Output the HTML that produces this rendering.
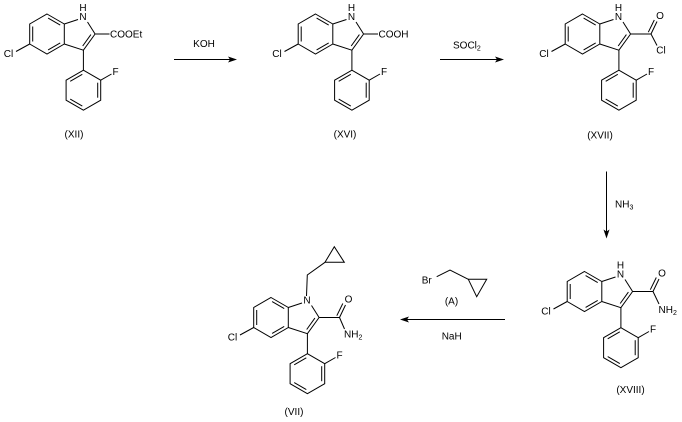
<!DOCTYPE html>
<html>
<head>
<meta charset="utf-8">
<style>
html,body{margin:0;padding:0;background:#fff;}
svg{display:block;}
text{font-family:"Liberation Sans",Arial,sans-serif;font-size:10px;fill:#000;}
.b line,.b polyline,.b polygon{stroke:#000;stroke-width:1;fill:none;}
</style>
</head>
<body>
<svg width="682" height="422" viewBox="0 0 682 422" xmlns="http://www.w3.org/2000/svg">

<!-- ===== (XII) ===== -->
<g class="b" transform="translate(47,14)">
  <polygon points="0,0 17.3,10 17.3,30 0,40 -17.3,30 -17.3,10"/>
  <line x1="-14.3" y1="12.5" x2="-14.3" y2="27.5"/>
  <line x1="1.1" y1="4.1" x2="13.2" y2="11.1"/>
  <line x1="1.1" y1="35.9" x2="13.2" y2="28.9"/>
  <line x1="17.3" y1="10" x2="31" y2="5.5"/>
  <line x1="48.1" y1="20" x2="40.5" y2="8"/>
  <polyline points="48.1,20 36.4,36.2 17.3,30"/>
  <line x1="43.9" y1="20.6" x2="35.7" y2="32"/>
  <line x1="36.4" y1="36.2" x2="36.4" y2="56.2"/>
  <polygon points="36.4,56.2 53.7,66.2 53.7,86.2 36.4,96.2 19.1,86.2 19.1,66.2"/>
  <line x1="35.3" y1="60.3" x2="23.2" y2="67.3"/>
  <line x1="50.7" y1="68.7" x2="50.7" y2="83.7"/>
  <line x1="35.3" y1="92.1" x2="23.2" y2="85.1"/>
  <line x1="53.7" y1="66.2" x2="64.5" y2="60"/>
  <line x1="-17.3" y1="30" x2="-31" y2="37.5"/>
  <line x1="48.1" y1="20" x2="62.5" y2="20"/>
  <text x="-38.5" y="43.1" text-anchor="middle">Cl</text>
  <text x="68.5" y="61.1" text-anchor="middle">F</text>
  <text x="36" y="6.1" text-anchor="middle">N</text>
  <text x="36" y="-2.9" text-anchor="middle">H</text>
  <text x="63" y="23.6">COOEt</text>
</g>
<text x="74" y="137.5" text-anchor="middle">(XII)</text>

<!-- arrow KOH -->
<g class="b">
  <line x1="174" y1="59.5" x2="233" y2="59.5"/>
</g>
<polygon points="237,59.5 228,56.5 230,59.5 228,62.5" fill="#000"/>
<text x="204" y="47.1" text-anchor="middle">KOH</text>

<!-- ===== (XVI) ===== -->
<g class="b" transform="translate(315.5,14)">
  <polygon points="0,0 17.3,10 17.3,30 0,40 -17.3,30 -17.3,10"/>
  <line x1="-14.3" y1="12.5" x2="-14.3" y2="27.5"/>
  <line x1="1.1" y1="4.1" x2="13.2" y2="11.1"/>
  <line x1="1.1" y1="35.9" x2="13.2" y2="28.9"/>
  <line x1="17.3" y1="10" x2="31" y2="5.5"/>
  <line x1="48.1" y1="20" x2="40.5" y2="8"/>
  <polyline points="48.1,20 36.4,36.2 17.3,30"/>
  <line x1="43.9" y1="20.6" x2="35.7" y2="32"/>
  <line x1="36.4" y1="36.2" x2="36.4" y2="56.2"/>
  <polygon points="36.4,56.2 53.7,66.2 53.7,86.2 36.4,96.2 19.1,86.2 19.1,66.2"/>
  <line x1="35.3" y1="60.3" x2="23.2" y2="67.3"/>
  <line x1="50.7" y1="68.7" x2="50.7" y2="83.7"/>
  <line x1="35.3" y1="92.1" x2="23.2" y2="85.1"/>
  <line x1="53.7" y1="66.2" x2="64.5" y2="60"/>
  <line x1="-17.3" y1="30" x2="-31" y2="37.5"/>
  <line x1="48.1" y1="20" x2="62.5" y2="20"/>
  <text x="-38.5" y="43.1" text-anchor="middle">Cl</text>
  <text x="68.5" y="61.1" text-anchor="middle">F</text>
  <text x="36" y="6.1" text-anchor="middle">N</text>
  <text x="36" y="-2.9" text-anchor="middle">H</text>
  <text x="63" y="23.6">COOH</text>
</g>
<text x="345" y="137.5" text-anchor="middle">(XVI)</text>

<!-- arrow SOCl2 -->
<g class="b">
  <line x1="440" y1="59.5" x2="500" y2="59.5"/>
</g>
<polygon points="504,59.5 495,56.5 497,59.5 495,62.5" fill="#000"/>
<text x="453" y="48.5">SOCl<tspan font-size="7" dy="2">2</tspan></text>

<!-- ===== (XVII) ===== -->
<g class="b" transform="translate(582.5,14)">
  <polygon points="0,0 17.3,10 17.3,30 0,40 -17.3,30 -17.3,10"/>
  <line x1="-14.3" y1="12.5" x2="-14.3" y2="27.5"/>
  <line x1="1.1" y1="4.1" x2="13.2" y2="11.1"/>
  <line x1="1.1" y1="35.9" x2="13.2" y2="28.9"/>
  <line x1="17.3" y1="10" x2="31" y2="5.5"/>
  <line x1="48.1" y1="20" x2="40.5" y2="8"/>
  <polyline points="48.1,20 36.4,36.2 17.3,30"/>
  <line x1="43.9" y1="20.6" x2="35.7" y2="32"/>
  <line x1="36.4" y1="36.2" x2="36.4" y2="56.2"/>
  <polygon points="36.4,56.2 53.7,66.2 53.7,86.2 36.4,96.2 19.1,86.2 19.1,66.2"/>
  <line x1="35.3" y1="60.3" x2="23.2" y2="67.3"/>
  <line x1="50.7" y1="68.7" x2="50.7" y2="83.7"/>
  <line x1="35.3" y1="92.1" x2="23.2" y2="85.1"/>
  <line x1="53.7" y1="66.2" x2="64.5" y2="60"/>
  <line x1="-17.3" y1="30" x2="-31" y2="37.5"/>
  <line x1="48.1" y1="20" x2="68.5" y2="20"/>
  <line x1="68.5" y1="20" x2="74.5" y2="7.5"/>
  <line x1="65.8" y1="18.2" x2="71.8" y2="6"/>
  <line x1="68.5" y1="20" x2="74.5" y2="31.5"/>
  <text x="-38.5" y="43.1" text-anchor="middle">Cl</text>
  <text x="68.5" y="61.1" text-anchor="middle">F</text>
  <text x="36" y="6.1" text-anchor="middle">N</text>
  <text x="36" y="-2.9" text-anchor="middle">H</text>
  <text x="77.5" y="5.1" text-anchor="middle">O</text>
  <text x="78.5" y="39.6" text-anchor="middle">Cl</text>
</g>
<text x="600" y="138.5" text-anchor="middle">(XVII)</text>

<!-- arrow NH3 -->
<g class="b">
  <line x1="606.5" y1="171.5" x2="606.5" y2="234"/>
</g>
<polygon points="606.5,238.5 603.5,229.5 606.5,231.5 609.5,229.5" fill="#000"/>
<text x="615" y="207.6">NH<tspan font-size="7" dy="2">3</tspan></text>

<!-- ===== (XVIII) ===== -->
<g class="b" transform="translate(584.5,271.5)">
  <polygon points="0,0 17.3,10 17.3,30 0,40 -17.3,30 -17.3,10"/>
  <line x1="-14.3" y1="12.5" x2="-14.3" y2="27.5"/>
  <line x1="1.1" y1="4.1" x2="13.2" y2="11.1"/>
  <line x1="1.1" y1="35.9" x2="13.2" y2="28.9"/>
  <line x1="17.3" y1="10" x2="31" y2="5.5"/>
  <line x1="48.1" y1="20" x2="40.5" y2="8"/>
  <polyline points="48.1,20 36.4,36.2 17.3,30"/>
  <line x1="43.9" y1="20.6" x2="35.7" y2="32"/>
  <line x1="36.4" y1="36.2" x2="36.4" y2="56.2"/>
  <polygon points="36.4,56.2 53.7,66.2 53.7,86.2 36.4,96.2 19.1,86.2 19.1,66.2"/>
  <line x1="35.3" y1="60.3" x2="23.2" y2="67.3"/>
  <line x1="50.7" y1="68.7" x2="50.7" y2="83.7"/>
  <line x1="35.3" y1="92.1" x2="23.2" y2="85.1"/>
  <line x1="53.7" y1="66.2" x2="64.5" y2="60"/>
  <line x1="-17.3" y1="30" x2="-31" y2="37.5"/>
  <line x1="48.1" y1="20" x2="68.5" y2="20"/>
  <line x1="68.5" y1="20" x2="74.5" y2="7.5"/>
  <line x1="65.8" y1="18.2" x2="71.8" y2="6"/>
  <line x1="68.5" y1="20" x2="74.5" y2="32.5"/>
  <text x="-38.5" y="43.1" text-anchor="middle">Cl</text>
  <text x="68.5" y="61.1" text-anchor="middle">F</text>
  <text x="36" y="6.1" text-anchor="middle">N</text>
  <text x="36" y="-2.9" text-anchor="middle">H</text>
  <text x="77.5" y="5.1" text-anchor="middle">O</text>
  <text x="74" y="41.6">NH<tspan font-size="7" dy="2">2</tspan></text>
</g>
<text x="630.5" y="393" text-anchor="middle">(XVIII)</text>

<!-- arrow NaH / reagent A -->
<g class="b">
  <line x1="404" y1="319.5" x2="505" y2="319.5"/>
  <polyline points="436.7,276.7 450,270 468.3,279.3"/>
  <polygon points="468.3,279.3 486.7,279.3 476.7,296.7"/>
</g>
<polygon points="400,319.5 409,316.5 407,319.5 409,322.5" fill="#000"/>
<text x="426.7" y="283.6" text-anchor="middle">Br</text>
<text x="451.5" y="304.6" text-anchor="middle">(A)</text>
<text x="451.7" y="339.6" text-anchor="middle">NaH</text>

<!-- ===== (VII) ===== -->
<g class="b" transform="translate(271,297.5)">
  <polygon points="0,0 17.3,10 17.3,30 0,40 -17.3,30 -17.3,10"/>
  <line x1="-14.3" y1="12.5" x2="-14.3" y2="27.5"/>
  <line x1="1.1" y1="4.1" x2="13.2" y2="11.1"/>
  <line x1="1.1" y1="35.9" x2="13.2" y2="28.9"/>
  <line x1="17.3" y1="10" x2="31" y2="5.5"/>
  <line x1="48.1" y1="20" x2="40.5" y2="8"/>
  <polyline points="48.1,20 36.4,36.2 17.3,30"/>
  <line x1="43.9" y1="20.6" x2="35.7" y2="32"/>
  <line x1="36.4" y1="36.2" x2="36.4" y2="56.2"/>
  <polygon points="36.4,56.2 53.7,66.2 53.7,86.2 36.4,96.2 19.1,86.2 19.1,66.2"/>
  <line x1="35.3" y1="60.3" x2="23.2" y2="67.3"/>
  <line x1="50.7" y1="68.7" x2="50.7" y2="83.7"/>
  <line x1="35.3" y1="92.1" x2="23.2" y2="85.1"/>
  <line x1="53.7" y1="66.2" x2="64.5" y2="60"/>
  <line x1="-17.3" y1="30" x2="-31" y2="37.5"/>
  <line x1="48.1" y1="20" x2="68.5" y2="20"/>
  <line x1="68.5" y1="20" x2="74.5" y2="7.5"/>
  <line x1="65.8" y1="18.2" x2="71.8" y2="6"/>
  <line x1="68.5" y1="20" x2="73.5" y2="31.5"/>
  <text x="-38.5" y="43.1" text-anchor="middle">Cl</text>
  <text x="68.5" y="61.1" text-anchor="middle">F</text>
  <text x="36" y="6.1" text-anchor="middle">N</text>
  <text x="77.5" y="5.1" text-anchor="middle">O</text>
  <text x="73" y="40.1">NH<tspan font-size="7" dy="2">2</tspan></text>
</g>
<g class="b">
  <polyline points="306.5,296 307.3,275 325,262.3"/>
  <polygon points="325,262.3 344.3,262.3 334.3,246.7"/>
</g>
<text x="294" y="415" text-anchor="middle">(VII)</text>

</svg>
</body>
</html>
